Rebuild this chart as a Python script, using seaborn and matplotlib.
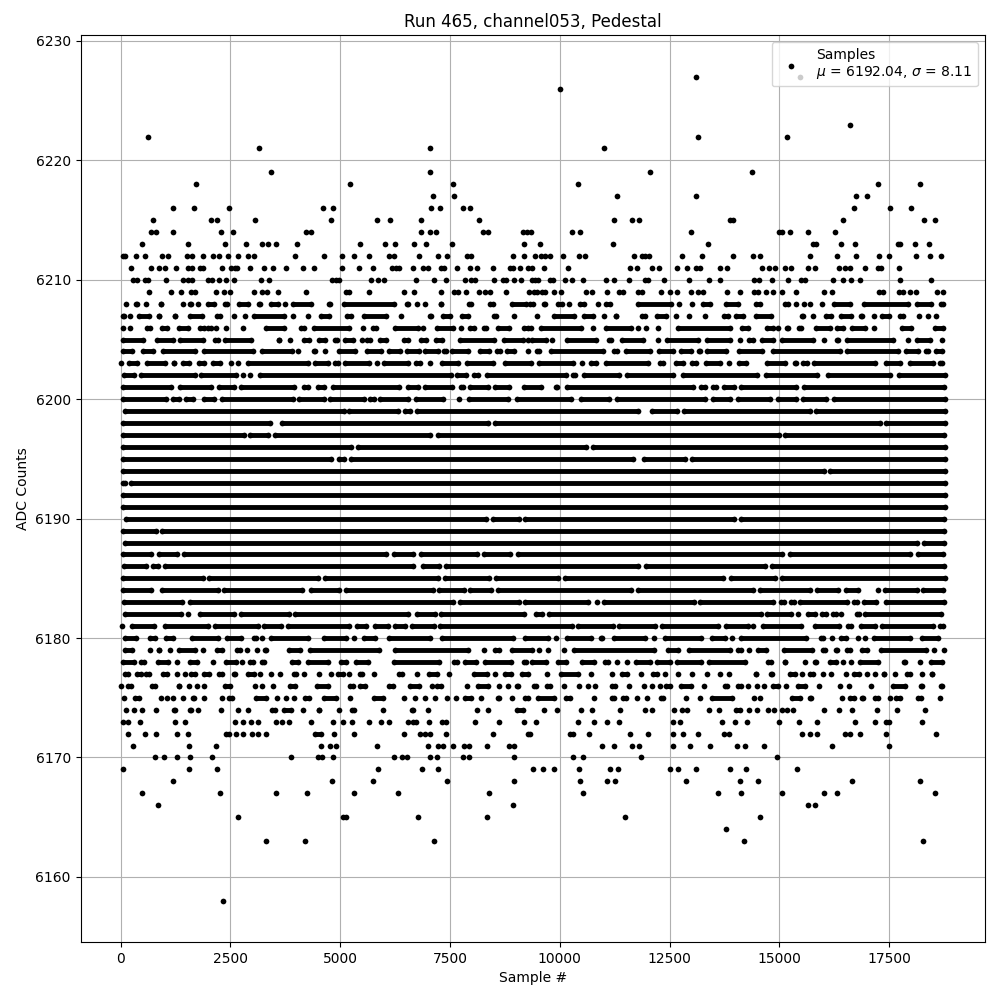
import pandas as pd
import matplotlib
matplotlib.use('Agg')
import matplotlib.pyplot as plt
import seaborn as sns

# Values. A plain number is one sample, a pair is a stretch
# of the row where the samples overlap into a solid bar (start, end).
levels = list(range(6158, 6228))

row_6227 = [13101, 15470]
row_6226 = [10010]
row_6223 = [16595]
row_6222 = [623, 13155, 15182]
row_6221 = [3152, 7048, 11013]
row_6219 = [3426, 7048, 12061, 14385]
row_6218 = [1717, 5225, 7572, 10420, 17233, 18190]
row_6217 = [7117, 7595, 11309, 13109, 16732, 16982]
row_6216 = [1193, 1671, 2469, 4610, 4838, 7071, 7276, 7800, 7960, 16686, 17506, 17985]
row_6215 = [737, 2058, 2195, 3061, 4793, 5841, 6137, 6843, 8165, 11240, 11651, 11810, 13876, 13937, 16458, 18281, 18532]
row_6214 = [691, 805, 1193, 2286, 2560, 4223, 4337, 6843, 7048, 7185, 8256, 8370, 9152, 9259, 9340, 10284, 10466, 12995,
            15000, 15050, 15250, 15640, 16254]
row_6213 = [486, 1534, 2377, 2856, 3220, 3357, 3539, 4018, 5453, 6023, 6251, 6684, 6957, 7550, 9190, 9554, 11218, 13382,
            15775, 15835, 16390, 16709, 17700, 17740, 18076, 18395]
row_6212 = [53, 99, 350, 555, 942, 1079, 1512, 1626, 1876, 2104, 2241, 2446, 2674, 2901, 3038, 3972, 4633, 5043, 5317,
            5658, 6114, 6228, 6790, 7231, 7436, 7876, 7967, 8939, 9190, 9440, 9570, 9660, 9775, 10078, 10443, 10572,
            11696, 11863, 11940, 12030, 12790, 13246, 13952, 14408, 14567, 15706, 16299, 16732, 17256, 17484, 18099,
            18418, 18669]
row_6211 = [236, 691, 874, 1010, 1261, 1534, 1626, 1800, 1876, 2309, 2514, 2605, 2651, 2947, 3266, 3471, 3775, 4155,
            4405, 5043, 5431, 5750, 6183, 6274, 6342, 6661, 6889, 7003, 7299, 7367, 7664, 7960, 8119, 8484, 8864, 8939,
            9099, 9281, 9357, 9646, 10192, 11605, 11757, 12106, 12258, 12676, 12896, 13094, 13192, 13648, 13800, 14613,
            14772, 14909, 15137, 15258, 15661, 15813, 16367, 16496, 16610, 16937, 17233, 17309, 17711]
row_6210 = [281, 372, 555, 623, 1033, 1420, 1534, 1626, 1990, 2081, 2241, 2400, 2583, 3198, 3380, 4815, 4907, 4975,
            5704, 5864, 6000, 6729, 7140, 7413, 7846, 7983, 8074, 8507, 8712, 8780, 8962, 9122, 9357, 9433, 9509, 9775,
            9851, 10116, 10268, 10534, 11058, 11240, 11582, 11939, 12015, 12380, 12949, 13405, 13648, 14431, 14544,
            14841, 15205, 15486, 15585, 16230, 16458, 16618, 16823, 17734, 18441]
row_6209 = [653, 1147, 1375, 1603, 1694, 2172, 2355, 2491, 3038, 3220, 3334, 3585, 4223, 5134, 5203, 5658, 6456, 6684,
            7299, 7595, 7686, 7869, 8165, 8301, 8415, 8780, 9304, 9400, 9471, 9585, 9661, 9873, 10025, 10595, 10724,
            11081, 11354, 11446, 11787, 11863, 12304, 12509, 12661, 12995, 13155, 13253, 13815, 14104, 14423, 14521,
            14696, 14863, 15053, 15380, 16003, 16193, 17256, 17355, 17711, 17810, 17962, 18114, 18585, 18714]
row_6208 = [122, (296, 418), 577, (858, 965), 1420, (1534, 1648), 1762, (1929, 2165), (2332, 2461), (2651, 2939),
            (3106, 3228), (3380, 3623), 3752, (3866, 4382), (4701, 4823), (5043, 6281), (6471, 6585), 6752, 6934,
            (7238, 7345), (7876, 8028), (8370, 8537), (8864, 9281), (9319, 9380), (9585, 9714), (9965, 10056), 10215,
            (10458, 10549), 10876, (11051, 11142), (11734, 12585), 12721, 13018, (13208, 13458), (13724, 14104),
            (14408, 14598), (15129, 15205), 15372, 15562, 15684, 15965, (16193, 16648), (16876, 17977), (18091, 18509),
            (18623, 18775)]
row_6207 = [(0, 129), 205, (372, 699), (813, 927), (1177, 1284), (1534, 1891), (2142, 2317), 2583, 2825, (2993, 3775),
            3927, 4276, (4519, 4800), (5142, 5233), (5484, 6091), 6387, (7003, 7117), (7284, 7557), (7724, 7967),
            (8453, 8598), 8955, 9486, (9813, 10382), (10496, 10800), 11005, (11218, 11332), (11810, 11977),
            (12152, 12471), 12638, 12949, 13306, (13747, 13823), (13952, 14218), (14408, 14863), (15456, 15585), 15775,
            (16003, 16230), (16344, 16686), (16800, 16937), 17142, (17279, 17537), (17734, 17810), 18167, 18372, 18555]
row_6206 = [53, 220, (547, 714), (889, 1094), (1269, 1588), (1800, 1891), (1990, 2066), 2172, 2408, 2788, (3266, 3760),
            (4063, 4230), (4360, 5256), 5522, (5697, 5864), (6205, 6813), 6889, (7155, 7610), 7740, (7914, 8104),
            (8233, 8370), (8544, 8902), (9130, 9319), 9342, (9509, 10534), 10762, (10990, 11673), 11787, 11954, 12243,
            (12638, 13914), (14089, 14332), (14674, 14901), 14977, (15129, 15243), (15395, 15547), (15775, 16192),
            (16268, 16496), (16610, 16990), 17142, (17749, 18053), (18486, 18775)]
row_6205 = [(0, 547), (775, 1231), (1306, 1914), (2104, 2256), (2332, 3015), (3547, 3661), 3851, (4117, 4345),
            (4458, 4701), (4838, 4975), (5066, 5332), 5484, (5598, 5688), (5848, 6091), (6410, 6585), (6790, 7003),
            (7132, 7360), (7686, 8560), (8674, 9206), 9281, (9319, 9737), 9813, (10116, 10876), (11066, 11218),
            (11370, 11939), 12243, (12395, 13192), (13306, 13914), 14104, (14256, 14446), (14560, 14901),
            (15015, 15813), 16003, (16268, 16382), (16496, 17635), 17916, (18091, 18471), 18699]
row_6204 = [(0, 319), (448, 797), (903, 1739), (1838, 3053), (3167, 3949), 4040, (4359, 4473), 4663, (4914, 5385),
            (5559, 5977), (6068, 6418), (6471, 6850), (6889, 7268), (7306, 7458), (7496, 7952), (8142, 8430),
            (8521, 8696), (8749, 9015), 9281, (9433, 9570), (9737, 11028), (11180, 11354), (11446, 12091),
            (12205, 12623), (12699, 13041), (13117, 13246), (13306, 13838), (14028, 14651), (14803, 16420),
            (16496, 17750), (17825, 18205), (18296, 18433), (18509, 18752)]
row_6203 = [15, (129, 417), (546, 1055), (1154, 1268), (1359, 1595), (1739, 1952), (2050, 2316), 2521, 2673,
            (2848, 4306), (4382, 4762), (4838, 4990), (5066, 5711), 5840, (5939, 6585), (6676, 6866), 7040,
            (7268, 7724), (7838, 8521), (8696, 9395), (9471, 10344), 10496, (10663, 10876), (10990, 12053),
            (12228, 12395), (12585, 12851), (12965, 13155), (13269, 13686), 13861, (14028, 14294), (14658, 15167),
            (15304, 15433), (15532, 15623), (15737, 17233), (17370, 17803), (17917, 18547), (18608, 18752)]
row_6202 = [(15, 357), (417, 1739), (1784, 2673), 2787, 2939, (3129, 7572), (7610, 7914), (7990, 8195), (8293, 10192),
            (10291, 10344), (10496, 11407), (11483, 12623), (12752, 14544), (14651, 15911), (16056, 17575),
            (17673, 18813)]
row_6201 = [(0, 1192), (1291, 2103), (2195, 2635), (2688, 3987), (4116, 4306), (4435, 4686), (4777, 6395), (6486, 6828),
            (6889, 7595), (7701, 7838), (7899, 8423), (8483, 8886), (9129, 9623), (9851, 9987), (10116, 13079),
            (13170, 13360), (13436, 13610), (13686, 14005), (14081, 15433), (15509, 18790)]
row_6200 = [(0, 1078), (1131, 1382), (1435, 1686), (1838, 2179), (2255, 3964), (4002, 4686), (4724, 5597), (5635, 5825),
            (5863, 6585), (6676, 7382), 7700, (7891, 8878), (8977, 10306), (10420, 11180), (11256, 13344),
            (13436, 13929), (14005, 14841), (14917, 15433), (15486, 16116), (16192, 18813)]
row_6199 = [(53, 5126), (5157, 6357), (6433, 6645), (6699, 11825), (12053, 12722), (12775, 15737), (15775, 18813)]
row_6198 = [(0, 3455), (3622, 8407), (8483, 17332), (17385, 18813)]
row_6197 = [(0, 2848), (2886, 3410), (3455, 7101), (7177, 15031), (15076, 18798)]
row_6196 = [(0, 5293), (5354, 10648), (10701, 18813)]
row_6195 = [(0, 4838), (4914, 5141), (5202, 11711), (11863, 12904), (12965, 18813)]
row_6194 = [(0, 16063), (16094, 18813)]
row_6193 = [(0, 144), (190, 18813)]
row_6192 = [(0, 18813)]
row_6191 = [(0, 18813)]
row_6190 = [(68, 8370), (8423, 9114), (9167, 14005), (14066, 18798)]
row_6189 = [(0, 850), (888, 18790)]
row_6188 = [(38, 18190), (18243, 18798)]
row_6187 = [(0, 736), (812, 1329), (1382, 6091), (6167, 6699), (6797, 8164), (8217, 8924), (8992, 15106),
            (15182, 18015), (18114, 18775)]
row_6186 = [(30, 622), (676, 903), (949, 6699), (6828, 7306), (7367, 11825), (11901, 14727), (14772, 18798)]
row_6185 = [(7, 1914), (1967, 4534), (4610, 7268), (7329, 8445), (8498, 10018), (10063, 13762), (13838, 14939),
            (15015, 18813)]
row_6184 = [(0, 751), (888, 2255), (2309, 4177), (4291, 5027), (5088, 7154), (7207, 7876), (7914, 8483), (8544, 11673),
            (11734, 14446), (14499, 15752), (15813, 16382), (16458, 16838), 17233, (17347, 18182), (18220, 18775)]
row_6183 = [(15, 1435), (1534, 7610), (7686, 9114), (9167, 10686), 10838, (10952, 13101), (13139, 14901),
            (14977, 15152), (15205, 15380), (15410, 16587), (16648, 16815), (16876, 17241), (17370, 18798)]
row_6182 = [(53, 1420), 1534, (1762, 2635), (2696, 3888), (3926, 6600), (6699, 7215), (7253, 9243), (9410, 9645),
            (9699, 14620), (14673, 15319), 15433, (15608, 15866), (15927, 16117), (16178, 16326), 16405,
            (16724, 16853), (16899, 18737)]
row_6181 = [38, (205, 812), (964, 2028), (2103, 3167), (3205, 3698), (3752, 5255), (5331, 5635), (5749, 6129),
            (6205, 6524), (6585, 7192), (7230, 10321), (10367, 11256), (11294, 12205), (12281, 13648), (13724, 14332),
            14408, (14575, 15532), (15760, 16398), (16512, 16686), (16800, 17218), (17279, 18547), (18608, 18775)]
row_6180 = [(53, 410), (623, 828), (987, 1231), (1572, 2256), (2370, 2788), (2977, 3129), 3220, (3373, 4322),
            (4572, 5180), 5317, (5484, 5848), (6053, 7094), (7268, 8978), (9167, 9775), 9911, (10116, 10762),
            (10876, 11005), (11180, 11977), 12152, (12342, 13268), (13420, 13800), 13929, (14081, 15661),
            (15889, 16041), 16192, (16344, 16572), 16785, 16937, (17104, 18015), (18205, 18661)]
row_6179 = [(53, 319), 661, (813, 927), 1117, (1269, 1739), 1876, (2142, 2347), (2598, 2765), 2879, 3106, (3243, 3357),
            (3775, 4140), (4269, 5939), (6205, 7952), 8279, (8484, 8674), (8864, 9410), 9532, 9737, 10101,
            (10268, 12190), (12418, 12737), (12889, 13914), (14013, 14165), 14316, (14468, 14749), (15053, 15790),
            (15942, 16078), (16230, 16367), (16496, 16648), (16838, 17051), (17256, 18395), 18524, 18737]
row_6178 = [(0, 357), (418, 585), (798, 1132), 1284, (1534, 1785), 2104, (2355, 2674), 2765, (2901, 3053), (3167, 3319),
            (3851, 4079), (4215, 4762), (4967, 5180), (5309, 5674), (6182, 7307), (7587, 7649), (7785, 8142),
            (8256, 8939), (9130, 9281), (9319, 9737), (9911, 10192), (10458, 10838), (10975, 11142), 11309, 11522,
            (11673, 12091), (12167, 12547), (12623, 13268), (13344, 14256), (14696, 14863), (15076, 15182), 15585,
            (15760, 15889), (16094, 16344), 16458, 16633, (16777, 17294), (17787, 17901), 18190, (18411, 18752)]
row_6177 = [(91, 167), (372, 471), (570, 646), (965, 1056), 1284, 1458, (1610, 1686), (1838, 2066), (2195, 2347),
            (2522, 2651), (2841, 3091), 3183, 3418, 3623, (3889, 4041), 4170, 4519, 4800, (4952, 5051), 5203,
            (5408, 5537), 5773, (6296, 6448), 6745, (6980, 7254), 7481, (7990, 8393), 8529, (8696, 8939), (9091, 9319),
            9699, (9965, 10458), 10701, 11180, (11370, 11582), 11841, (12068, 12266), 12395, 12699, 13018, 13344, 13656,
            13861, (14408, 14522), (14749, 14886), (15190, 15395), 15524, (15684, 15775), 15980, 16170, 16511,
            (16701, 16800), 16982, 17165, (17326, 17441), 17620, (17863, 18015), 18243, (18418, 18524)]
row_6176 = [8, (167, 243), (661, 828), (1269, 1383), 1557, 1739, 1899, (2332, 2544), 3069, 3220, 3471, (3813, 4018),
            (4420, 4762), (5218, 5294), (5408, 5613), (6114, 6205), (6547, 6851), 7079, (7208, 7284), 7892,
            (8089, 8408), 8603, 8808, (8978, 9106), (9410, 9456), (9714, 9775), 10101, 10443, 10648, 10808,
            (11127, 11309), 11582, 11924, 12106, 12281, (12418, 12509), (12714, 13041), 13291, (13709, 13861),
            (14013, 14165), 14294, 14499, 14658, (14803, 15015), 15152, (15372, 15623), 15889, 16382, 16572, 17081,
            (17537, 17917), (18167, 18296), (18623, 18752)]
row_6175 = [76, (319, 418), 927, 1056, 1193, 1420, (1588, 1724), 1891, 2317, (2469, 2544), (3038, 3357), 3570, 3775,
            3942, (4193, 4291), (4572, 4952), 5218, (5712, 6015), 6456, 6707, 6927, 7163, 7420, 7626, (7785, 8028),
            8195, (8544, 8674), 8916, (9152, 9319), (9456, 9927), (10139, 10230), 10785, (11142, 11278), (11430, 11506),
            11765, 11992, (12243, 12395), 12881, 13200, (13420, 13967), 14423, 14560, (15243, 15509), (15638, 15760),
            16413, (16610, 16686), (16838, 16952), (17127, 17294), 17506, (17658, 17749), (18114, 18281), 18646]
row_6174 = [122, 304, 486, 805, (1155, 1284), (1534, 1648), 1762, 2286, 2666, 2901, (3456, 3509), (3661, 3927), 4155,
            (4458, 4572), 4967, (5218, 5370), 5977, (6585, 6699), 7003, 8119, 8363, (8977, 9206), 9638, 9927, 10489,
            10739, 11377, 11939, 12091, 12608, 12775, 12904, 13405, 13633, (13952, 14142), 14316, 14499, 14749, 14886,
            15053, 15182, 15319, 16025, 16352, 16641, 17210, 17674, 18311]
row_6173 = [53, 167, 441, 1246, 1466, 2605, 2788, 2970, 3129, 3539, 3684, 3836, 4337, 4838, 5066, 5271, 5643, 5932,
            6114, 6547, 6666, 6730, 7026, 7306, 7405, 8066, 8621, 9190, 9456, 10420, 10785, 11081, 11354, 12585, 12744,
            13701, 13997, 14256, 15000, 15456, 15866, 16709, 17165, 17415, 17484, 18243]
row_6172 = [167, 555, 805, 1284, 1534, 2408, 2469, 2628, 2788, 2993, 3129, 3319, (4382, 4610), 4868, 5317, 6456, 6820,
            6934, 7048, 7405, 8468, 9281, 9319, (10192, 10344), 10671, 11605, 12015, 12585, 12797, 13154, 13747, 13846,
            15509, 15684, 15866, 16496, 16610, 16823, 17430, 18555]
row_6171 = [281, 1557, 2172, 4565, 4777, 4907, 5841, 7003, 7231, 7329, 7557, 7823, 7937, 8347, 8848, 8962, 10967, 11240,
            11651, 11810, 12585, 12972, 13428, 14043, 14225, 14658, 16185, 17484]
row_6170 = [783, 988, 1284, 1580, 2081, 3881, 4497, 4587, 4838, 6228, 6410, 6524, 7041, 7208, 7800, 7937, 8962, 10306,
            10534, 11856, 14954]
row_6169 = [53, 1557, 2195, 5864, 6866, 7231, 9380, 9623, 9873, 10443, 11149, 11324, 12516, 12699, 13109, 13884, 14248,
            15410]
row_6168 = [1193, 4815, 5750, 7436, 8962, 10466, 11081, 11263, 12881, 14111, 14522, 16663, 18190]
row_6167 = [486, 2264, 3539, 4246, 5317, 6319, 8393, 10534, 13610, 14134, 15068, 16003, 16299, 18532]
row_6166 = [851, 8939, 15661, 15798]
row_6165 = [2674, 5066, 5119, 6775, 8347, 11491, 14567]
row_6164 = [13792]
row_6163 = [3312, 4200, 7140, 14203, 18258]
row_6158 = [2332]

title = 'Run 465, channel053, Pedestal'
x_label = 'Sample #'
y_label = 'ADC Counts'
legend_label = 'Samples\n$\\mu$ = 6192.04, $\\sigma$ = 8.11'

# Pairs were read at the outer edge of the black bar, so bring them in by a dot radius
edge_inset = 50

xs, ys, bar_y, bar_start, bar_end = [], [], [], [], []
for level in levels:
    row = globals().get(f'row_{level}', [])
    for item in row:
        if isinstance(item, tuple):
            start, end = item
            if end - start > 2 * edge_inset:
                start, end = start + edge_inset, end - edge_inset
            xs += [start, end]
            ys += [level, level]
            bar_y.append(level)
            bar_start.append(start)
            bar_end.append(end)
        else:
            xs.append(item)
            ys.append(level)

df = pd.DataFrame({'sample': xs, 'adc': ys})

fig, ax = plt.subplots(figsize=(10, 10), dpi=100)
ax.hlines(bar_y, bar_start, bar_end, color='black', linewidth=3.5, zorder=3)
sns.scatterplot(data=df, x='sample', y='adc', color='black', s=17, linewidth=0, zorder=3,
                label=legend_label, ax=ax)

ax.set_title(title)
ax.set_xlabel(x_label)
ax.set_ylabel(y_label)
ax.set_xlim(-915, 19680)
ax.set_ylim(6154.55, 6230.5)
ax.grid(True)
ax.legend(loc='upper right')
fig.subplots_adjust(left=0.0805, right=0.985, top=0.965, bottom=0.058)
plt.savefig('out.png')
